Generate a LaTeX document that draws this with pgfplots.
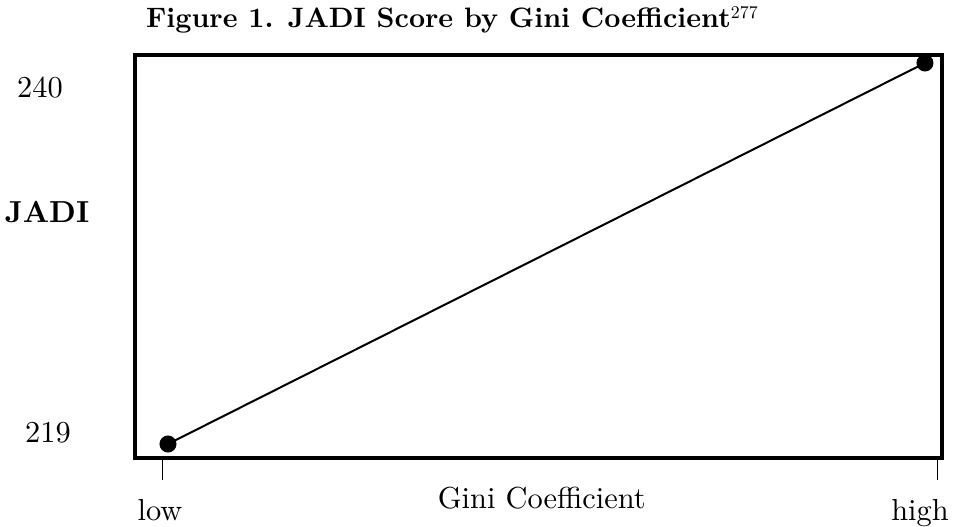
\documentclass[border=0pt]{standalone}
\usepackage{fontspec}
\setmainfont{lmroman10-regular.otf}[BoldFont=lmroman10-bold.otf, ItalicFont=lmroman10-italic.otf, BoldItalicFont=lmroman10-bolditalic.otf]
\usepackage{pgfplots}
\pgfplotsset{compat=1.18}
\newcommand{\bigfont}{\fontsize{30.5}{35}\selectfont}
\begin{document}
\begin{tikzpicture}
\useasboundingbox (-135bp,-69bp) rectangle (818bp,458bp);
\begin{axis}[
  at={(0,0)}, anchor=south west,
  scale only axis, width=807bp, height=403bp,
  xmin=-0.0436, xmax=1.0225,
  ymin=218.228, ymax=240.441,
  axis line style={line width=4.5bp, line join=miter},
  xtick={-0.0079,1.0159}, xticklabels={},
  xtick pos=bottom, tick align=outside,
  major tick length=22bp,
  xtick style={line width=1bp, black},
  extra x ticks={-0.0106,0.9934},
  extra x tick labels={low,high},
  extra x tick style={major tick length=0pt, xticklabel style={anchor=base, yshift=-62bp}},
  ytick={219.61}, yticklabels={219},
  ytick style={draw=none},
  ytick pos=left,
  extra y ticks={238.62}, extra y tick labels={240},
  extra y tick style={yticklabel style={xshift=-8bp}},
  yticklabel style={anchor=center, xshift=-65bp},
  every tick label/.append style={font=\bigfont},
  xticklabel style={font=\bigfont},
  every axis x label/.style={at={(axis description cs:0.504,-0.099)}, anchor=center, font=\bigfont},
  every axis y label/.style={at={(axis description cs:-0.109,0.61)}, anchor=center, font=\bigfont\bfseries},
  title style={at={(axis description cs:0.393,1.0546)}, anchor=base, font=\fontsize{28.2}{32}\selectfont\bfseries},
  title={Figure 1. JADI Score by Gini Coefficient\textsuperscript{\normalfont\fontsize{18}{20}\selectfont 277}},
  xlabel={Gini Coefficient},
  ylabel={JADI},
  clip=false,
]
\addplot[black, line width=2bp, mark=*, mark size=7.5bp, mark options={fill=black}] coordinates {(0,219) (1,240)};
\end{axis}
\end{tikzpicture}
\end{document}
